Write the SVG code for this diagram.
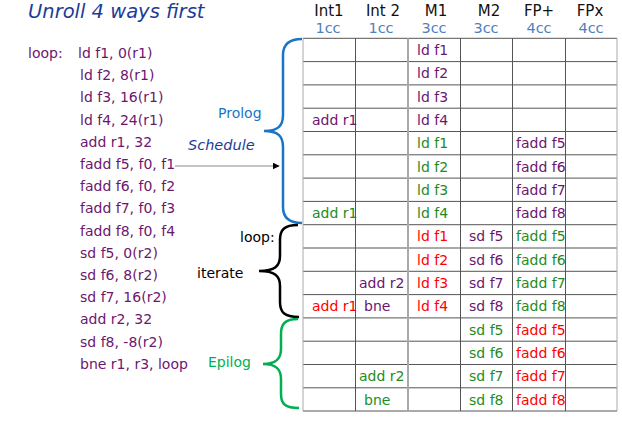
<svg xmlns="http://www.w3.org/2000/svg" width="622" height="446" viewBox="0 0 622 446">
<style>
text{font-family:"DejaVu Sans",Verdana,sans-serif;font-size:14px}
.title{font-size:19.5px;font-style:italic;fill:#1c3c98}
.code{fill:#6c1670}
.hd{font-size:15px;fill:#111;text-anchor:middle}
.cc{font-size:14.5px;fill:#4f81bd;text-anchor:middle}
.p{fill:#6c1670}
.g{fill:#1e8c1e}
.r{fill:#ff0000}
.grid line{stroke:#555;stroke-width:1}
.brace{fill:none;stroke-width:2.5}
</style>
<defs>
<marker id="ah" viewBox="0 0 10 10" refX="9" refY="5" markerWidth="7" markerHeight="7" orient="auto" markerUnits="userSpaceOnUse">
<path d="M0,0 L10,5 L0,10 z" fill="#000"/>
</marker>
</defs>
<text class="title" x="28" y="18">Unroll 4 ways first</text>
<g id="code">
<text class="code" x="28" y="58">loop:</text>
<text class="code" x="78" y="58">ld f1, 0(r1)</text>
<text class="code" x="80" y="80.2">ld f2, 8(r1)</text>
<text class="code" x="80" y="102.4">ld f3, 16(r1)</text>
<text class="code" x="80" y="124.6">ld f4, 24(r1)</text>
<text class="code" x="80" y="146.8">add r1, 32</text>
<text class="code" x="80" y="169">fadd f5, f0, f1</text>
<text class="code" x="80" y="191.2">fadd f6, f0, f2</text>
<text class="code" x="80" y="213.4">fadd f7, f0, f3</text>
<text class="code" x="80" y="235.6">fadd f8, f0, f4</text>
<text class="code" x="80" y="257.8">sd f5, 0(r2)</text>
<text class="code" x="80" y="280">sd f6, 8(r2)</text>
<text class="code" x="80" y="302.2">sd f7, 16(r2)</text>
<text class="code" x="80" y="324.4">add r2, 32</text>
<text class="code" x="80" y="346.6">sd f8, -8(r2)</text>
<text class="code" x="80" y="368.8">bne r1, r3, loop</text>
</g>
<g id="headers">
<text class="hd" x="329" y="16">Int1</text>
<text class="hd" x="383" y="16">Int 2</text>
<text class="hd" x="436" y="16">M1</text>
<text class="hd" x="489" y="16">M2</text>
<text class="hd" x="539" y="16">FP+</text>
<text class="hd" x="590" y="16">FPx</text>
<text class="cc" x="328" y="33">1cc</text>
<text class="cc" x="381" y="33">1cc</text>
<text class="cc" x="434" y="33">3cc</text>
<text class="cc" x="486" y="33">3cc</text>
<text class="cc" x="539" y="33">4cc</text>
<text class="cc" x="591" y="33">4cc</text>
</g>
<g id="table" class="grid">
<line x1="303" y1="38.3" x2="617" y2="38.3"/>
<line x1="303" y1="61.6" x2="617" y2="61.6"/>
<line x1="303" y1="84.9" x2="617" y2="84.9"/>
<line x1="303" y1="108.2" x2="617" y2="108.2"/>
<line x1="303" y1="131.5" x2="617" y2="131.5"/>
<line x1="303" y1="154.8" x2="617" y2="154.8"/>
<line x1="303" y1="178.1" x2="617" y2="178.1"/>
<line x1="303" y1="201.4" x2="617" y2="201.4"/>
<line x1="303" y1="224.7" x2="617" y2="224.7"/>
<line x1="303" y1="248" x2="617" y2="248"/>
<line x1="303" y1="271.3" x2="617" y2="271.3"/>
<line x1="303" y1="294.6" x2="617" y2="294.6"/>
<line x1="303" y1="317.9" x2="617" y2="317.9"/>
<line x1="303" y1="341.2" x2="617" y2="341.2"/>
<line x1="303" y1="364.5" x2="617" y2="364.5"/>
<line x1="303" y1="387.8" x2="617" y2="387.8"/>
<line x1="303" y1="411" x2="617" y2="411"/>
<line x1="303" y1="38.3" x2="303" y2="411" style="stroke:#aaa"/>
<line x1="355.5" y1="38.3" x2="355.5" y2="411"/>
<line x1="408" y1="38.3" x2="408" y2="411" style="stroke:#aaa;stroke-width:2"/>
<line x1="460.5" y1="38.3" x2="460.5" y2="411"/>
<line x1="512.5" y1="38.3" x2="512.5" y2="411"/>
<line x1="565.5" y1="38.3" x2="565.5" y2="411"/>
<line x1="617" y1="38.3" x2="617" y2="411" style="stroke:#aaa"/>
</g>
<g id="cells">
<text class="p" x="417" y="55">ld f1</text>
<text class="p" x="417" y="78.3">ld f2</text>
<text class="p" x="417" y="101.6">ld f3</text>
<text class="p" x="312" y="124.9">add r1</text>
<text class="p" x="417" y="124.9">ld f4</text>
<text class="g" x="417" y="148.2">ld f1</text>
<text class="p" x="516" y="148.2">fadd f5</text>
<text class="g" x="417" y="171.5">ld f2</text>
<text class="p" x="516" y="171.5">fadd f6</text>
<text class="g" x="417" y="194.8">ld f3</text>
<text class="p" x="516" y="194.8">fadd f7</text>
<text class="g" x="312" y="218.1">add r1</text>
<text class="g" x="417" y="218.1">ld f4</text>
<text class="p" x="516" y="218.1">fadd f8</text>
<text class="r" x="417" y="241.4">ld f1</text>
<text class="p" x="469" y="241.4">sd f5</text>
<text class="g" x="516" y="241.4">fadd f5</text>
<text class="r" x="417" y="264.7">ld f2</text>
<text class="p" x="469" y="264.7">sd f6</text>
<text class="g" x="516" y="264.7">fadd f6</text>
<text class="p" x="359" y="288">add r2</text>
<text class="r" x="417" y="288">ld f3</text>
<text class="p" x="469" y="288">sd f7</text>
<text class="g" x="516" y="288">fadd f7</text>
<text class="r" x="312" y="311.3">add r1</text>
<text class="p" x="364" y="311.3">bne</text>
<text class="r" x="417" y="311.3">ld f4</text>
<text class="p" x="469" y="311.3">sd f8</text>
<text class="g" x="516" y="311.3">fadd f8</text>
<text class="g" x="469" y="334.6">sd f5</text>
<text class="r" x="516" y="334.6">fadd f5</text>
<text class="g" x="469" y="357.9">sd f6</text>
<text class="r" x="516" y="357.9">fadd f6</text>
<text class="g" x="359" y="381.2">add r2</text>
<text class="g" x="469" y="381.2">sd f7</text>
<text class="r" x="516" y="381.2">fadd f7</text>
<text class="g" x="364" y="404.5">bne</text>
<text class="g" x="469" y="404.5">sd f8</text>
<text class="r" x="516" y="404.5">fadd f8</text>
</g>
<g id="prolog">
<path class="brace" stroke="#1a75c9" d="M302,39 C288,39 283,45 283,55 L283,115 C283,126 278,131 264,131 C278,131 283,136 283,147 L283,207 C283,217 288,223 302,223"/>
<text x="218" y="118" style="fill:#1a75c9">Prolog</text>
</g>
<g id="schedule">
<text x="188" y="150" style="fill:#1c3c98;font-style:italic;font-size:14.5px">Schedule</text>
</g>
<g id="loop">
<path class="brace" stroke="#000" d="M298,225 C284,225 280,230 280,240 L280,256 C280,266 275,271 259,271 C275,271 280,276 280,286 L280,302 C280,312 284,317 299,317"/>
<text x="240" y="242" style="fill:#000">loop:</text>
<text x="197" y="278" style="fill:#000">iterate</text>
</g>
<g id="epilog">
<path class="brace" stroke="#00b050" d="M298,319 C285,319 281,324 281,334 L281,349 C281,359 276,364 263,364 C276,364 281,369 281,379 L281,394 C281,404 285,408 299,408"/>
<text x="208" y="367" style="fill:#00b050">Epilog</text>
</g>
<g id="connectors">
<line x1="175" y1="166" x2="279" y2="166" stroke="#888" stroke-width="1" marker-end="url(#ah)"/>
</g>
</svg>
